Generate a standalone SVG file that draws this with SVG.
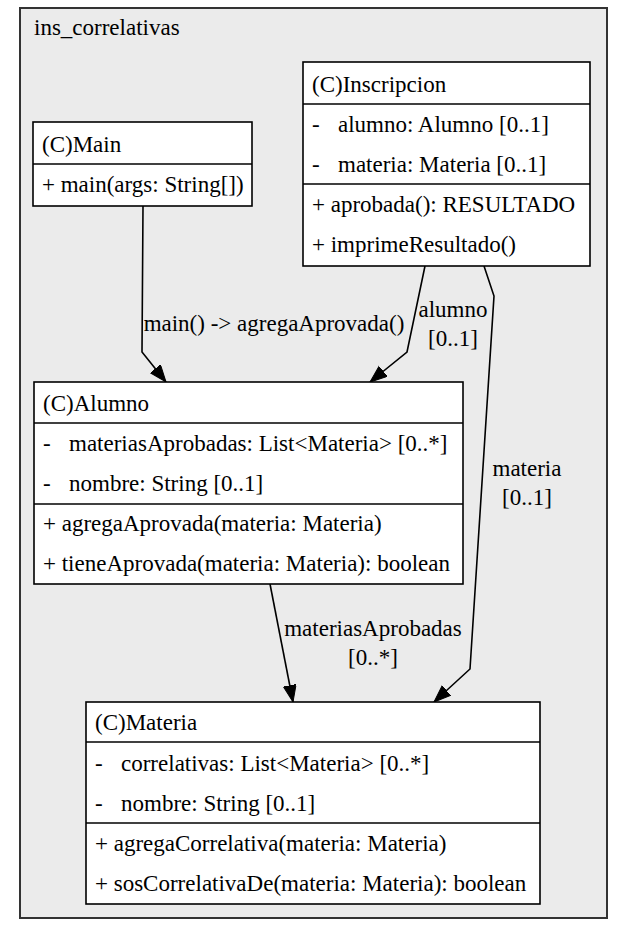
<svg xmlns="http://www.w3.org/2000/svg" width="617" height="938" viewBox="0 0 617 938">
<style>
text{font-family:"Liberation Serif","Times New Roman",serif;font-size:23px;fill:#000}
.box{fill:#fff;stroke:#000;stroke-width:1.6}
.div{stroke:#000;stroke-width:1.6}
.edge{fill:none;stroke:#000;stroke-width:1.6}
.lbl{text-anchor:middle}
</style>
<defs>
<marker id="arr" markerUnits="userSpaceOnUse" markerWidth="18" markerHeight="14" refX="17" refY="6.5" orient="auto">
<path d="M0,0 L17,6.5 L0,13 z" fill="#000" stroke="#000" stroke-width="1"/>
</marker>
</defs>
<g id="cluster_ins_correlativas">
<rect x="20" y="8" width="587" height="910" fill="#ebebeb" stroke="#333" stroke-width="2"/>
<text x="34" y="35">ins_correlativas</text>
</g>
<g id="edges">
<path class="edge" d="M143,206 L142,352 L166,382" marker-end="url(#arr)"/>
<text class="lbl" x="274" y="331">main() -&gt; agregaAprovada()</text>
<path class="edge" d="M425,266 L407,352 L370,382" marker-end="url(#arr)"/>
<text class="lbl" x="453" y="317">alumno</text>
<text class="lbl" x="453" y="346">[0..1]</text>
<path class="edge" d="M484,266 L494,296 L470,669 L434,702" marker-end="url(#arr)"/>
<text class="lbl" x="527" y="476">materia</text>
<text class="lbl" x="527" y="505">[0..1]</text>
<path class="edge" d="M270,584 L293,702" marker-end="url(#arr)"/>
<text class="lbl" x="373" y="636">materiasAprobadas</text>
<text class="lbl" x="373" y="665">[0..*]</text>
</g>
<g id="Main">
<rect class="box" x="33" y="122" width="219" height="84"/>
<line class="div" x1="33" y1="164" x2="252" y2="164"/>
<text x="42" y="152">(C)Main</text>
<text x="42" y="192">+ main(args: String[])</text>
</g>
<g id="Inscripcion">
<rect class="box" x="303" y="62" width="287" height="204"/>
<line class="div" x1="303" y1="104" x2="590" y2="104"/>
<line class="div" x1="303" y1="184" x2="590" y2="184"/>
<text x="312" y="92">(C)Inscripcion</text>
<text x="312" y="132">-</text><text x="338" y="132">alumno: Alumno [0..1]</text>
<text x="312" y="172">-</text><text x="338" y="172">materia: Materia [0..1]</text>
<text x="312" y="212">+ aprobada(): RESULTADO</text>
<text x="312" y="252">+ imprimeResultado()</text>
</g>
<g id="Alumno">
<rect class="box" x="34" y="382" width="429" height="202"/>
<line class="div" x1="34" y1="423" x2="463" y2="423"/>
<line class="div" x1="34" y1="504" x2="463" y2="504"/>
<text x="43" y="411">(C)Alumno</text>
<text x="43" y="451">-</text><text x="69" y="451">materiasAprobadas: List&lt;Materia&gt; [0..*]</text>
<text x="43" y="491">-</text><text x="69" y="491">nombre: String [0..1]</text>
<text x="43" y="531">+ agregaAprovada(materia: Materia)</text>
<text x="43" y="571">+ tieneAprovada(materia: Materia): boolean</text>
</g>
<g id="Materia">
<rect class="box" x="86" y="702" width="454" height="202"/>
<line class="div" x1="86" y1="742" x2="540" y2="742"/>
<line class="div" x1="86" y1="823" x2="540" y2="823"/>
<text x="95" y="730">(C)Materia</text>
<text x="95" y="771">-</text><text x="121" y="771">correlativas: List&lt;Materia&gt; [0..*]</text>
<text x="95" y="811">-</text><text x="121" y="811">nombre: String [0..1]</text>
<text x="95" y="851">+ agregaCorrelativa(materia: Materia)</text>
<text x="95" y="891">+ sosCorrelativaDe(materia: Materia): boolean</text>
</g>
</svg>
